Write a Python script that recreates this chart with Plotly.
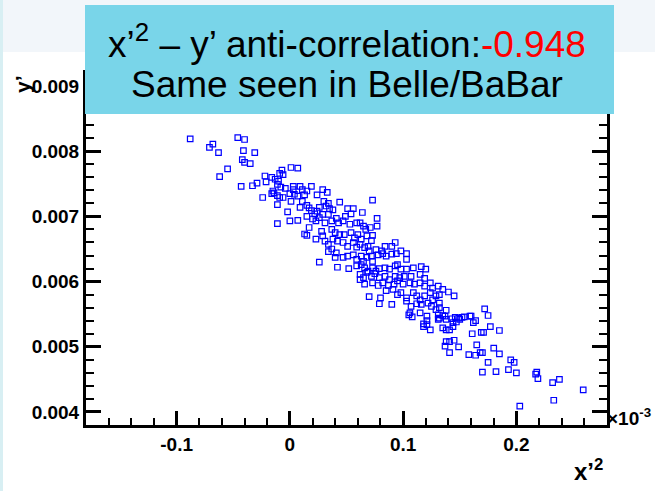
import plotly.graph_objects as go

# x'^2 values (in units of 1e-3) and y' values
x_vals = [
    -0.088, -0.068, -0.071, -0.063, -0.046, -0.040, -0.041, -0.031, -0.042, -0.040,
    -0.035, -0.055, -0.062, -0.043, -0.033, -0.029, -0.022, -0.021, -0.024,
    0.001, 0.007, -0.007, -0.009, -0.006, -0.016, -0.013, -0.010, -0.011, -0.008,
    -0.004, -0.015, -0.016, -0.014, -0.011, -0.009, -0.006, 0.003, 0.003, 0.009,
    0.011, 0.015, 0.019, 0.013, 0.000, 0.004, 0.007, 0.001, 0.024, 0.029,
    0.033, -0.011, -0.002, -0.011, 0.000, 0.007, 0.009, 0.011, 0.015, 0.017,
    0.019, 0.022, 0.024, 0.026, 0.030, 0.032, 0.034, 0.035, 0.038, 0.044,
    0.051, 0.056, 0.064, 0.073, 0.015, 0.020, 0.023, 0.026, 0.029, 0.031,
    0.017, 0.034, 0.054, 0.013, 0.015, 0.023, 0.028, 0.029, 0.031, 0.034,
    0.034, 0.026,
    0.037, 0.041, 0.043, 0.047, 0.049, 0.053, 0.059, 0.062, 0.065, 0.067,
    0.071, 0.077, 0.077, 0.037, 0.040, 0.044, 0.048, 0.054, 0.057, 0.060,
    0.063, 0.068, 0.073, 0.072, 0.038, 0.042, 0.047, 0.051, 0.056, 0.059,
    0.062, 0.066, 0.069, 0.070, 0.076, 0.081, 0.084, 0.090, 0.093, 0.037,
    0.041, 0.040, 0.047, 0.051, 0.056, 0.059, 0.063, 0.065, 0.068, 0.072,
    0.073, 0.078, 0.082, 0.085, 0.090, 0.094, 0.098, 0.103, 0.103, 0.042,
    0.052, 0.059, 0.063, 0.066, 0.069, 0.073, 0.076, 0.079, 0.084, 0.088,
    0.093, 0.095, 0.098, 0.103, 0.109, 0.116, 0.120, 0.062, 0.065, 0.068,
    0.072, 0.075, 0.079, 0.084, 0.088, 0.093, 0.097, 0.101, 0.107, 0.115,
    0.119, 0.062, 0.066, 0.073, 0.078, 0.082, 0.087, 0.092, 0.095, 0.100,
    0.106, 0.110, 0.115, 0.119, 0.124, 0.126, 0.131, 0.135, 0.140, 0.145,
    0.085, 0.091, 0.095, 0.098, 0.103, 0.109, 0.112, 0.115, 0.119, 0.124,
    0.126, 0.129, 0.132, 0.132, 0.070, 0.080, 0.079, 0.090, 0.103, 0.107,
    0.112, 0.116, 0.122, 0.125, 0.129, 0.132, 0.138, 0.106, 0.115,
    0.105, 0.108, 0.118, 0.118, 0.121, 0.121, 0.121, 0.124, 0.131, 0.132,
    0.131, 0.135, 0.137, 0.138, 0.143, 0.146, 0.149, 0.150, 0.147, 0.152,
    0.154, 0.159, 0.160, 0.144, 0.144, 0.162, 0.164, 0.135, 0.138, 0.141,
    0.172, 0.175, 0.177, 0.185, 0.161, 0.169, 0.171, 0.138, 0.141, 0.145,
    0.137, 0.149, 0.165, 0.180, 0.185, 0.141, 0.158, 0.164, 0.168, 0.170,
    0.175, 0.195, 0.198,
    0.170, 0.182, 0.193, 0.200, 0.218, 0.217, 0.219, 0.232, 0.238, 0.259,
    0.233, 0.203,
]
y_vals = [
    0.00819, 0.00811, 0.00806, 0.00798, 0.00821, 0.00818, 0.00801, 0.00798, 0.00787, 0.00783,
    0.00781, 0.00773, 0.00761, 0.00746, 0.00747, 0.00751, 0.00762, 0.00753, 0.00729,
    0.00775, 0.00774, 0.00771, 0.00766, 0.00764, 0.00760, 0.00757, 0.00754, 0.00749, 0.00745,
    0.00743, 0.00739, 0.00735, 0.00736, 0.00732, 0.00729, 0.00729, 0.00746, 0.00741, 0.00746,
    0.00741, 0.00739, 0.00746, 0.00733, 0.00735, 0.00734, 0.00731, 0.00723, 0.00733, 0.00741,
    0.00737, 0.00718, 0.00707, 0.00689, 0.00693, 0.00694, 0.00714, 0.00723, 0.00717, 0.00713,
    0.00709, 0.00704, 0.00708, 0.00714, 0.00723, 0.00716, 0.00720, 0.00712, 0.00710, 0.00722,
    0.00712, 0.00712, 0.00706, 0.00725, 0.00700, 0.00696, 0.00693, 0.00698, 0.00703, 0.00690,
    0.00683, 0.00703, 0.00704, 0.00673, 0.00671, 0.00665, 0.00677, 0.00670, 0.00662, 0.00657,
    0.00646, 0.00630,
    0.00693, 0.00697, 0.00690, 0.00693, 0.00700, 0.00688, 0.00690, 0.00690, 0.00685, 0.00680,
    0.00683, 0.00697, 0.00685, 0.00680, 0.00675, 0.00672, 0.00672, 0.00675, 0.00667, 0.00672,
    0.00665, 0.00670, 0.00671, 0.00663, 0.00665, 0.00662, 0.00660, 0.00654, 0.00660, 0.00653,
    0.00657, 0.00652, 0.00654, 0.00647, 0.00649, 0.00647, 0.00654, 0.00654, 0.00660, 0.00650,
    0.00644, 0.00637, 0.00637, 0.00639, 0.00641, 0.00634, 0.00639, 0.00631, 0.00637, 0.00639,
    0.00631, 0.00641, 0.00643, 0.00639, 0.00642, 0.00643, 0.00647, 0.00643, 0.00634, 0.00622,
    0.00620, 0.00624, 0.00626, 0.00621, 0.00616, 0.00621, 0.00616, 0.00620, 0.00621, 0.00619,
    0.00624, 0.00626, 0.00619, 0.00619, 0.00621, 0.00623, 0.00619, 0.00611, 0.00606, 0.00614,
    0.00608, 0.00612, 0.00606, 0.00608, 0.00603, 0.00608, 0.00606, 0.00608, 0.00608, 0.00611,
    0.00605, 0.00603, 0.00596, 0.00598, 0.00594, 0.00598, 0.00594, 0.00596, 0.00601, 0.00596,
    0.00598, 0.00596, 0.00598, 0.00593, 0.00598, 0.00590, 0.00593, 0.00588, 0.00584, 0.00578,
    0.00586, 0.00588, 0.00580, 0.00583, 0.00575, 0.00583, 0.00578, 0.00572, 0.00578, 0.00583,
    0.00572, 0.00578, 0.00567, 0.00580, 0.00577, 0.00575, 0.00566, 0.00565, 0.00570, 0.00562,
    0.00566, 0.00565, 0.00567, 0.00562, 0.00557, 0.00560, 0.00556, 0.00552, 0.00552,
    0.00549, 0.00546, 0.00535, 0.00531, 0.00534, 0.00547, 0.00540, 0.00526, 0.00549, 0.00544,
    0.00542, 0.00548, 0.00547, 0.00542, 0.00543, 0.00545, 0.00544, 0.00542, 0.00538, 0.00545,
    0.00546, 0.00547, 0.00547, 0.00537, 0.00531, 0.00537, 0.00540, 0.00529, 0.00526, 0.00526,
    0.00558, 0.00548, 0.00531, 0.00525, 0.00520, 0.00522, 0.00522, 0.00508, 0.00508, 0.00510,
    0.00501, 0.00500, 0.00503, 0.00498, 0.00489, 0.00491, 0.00488, 0.00487, 0.00491, 0.00491,
    0.00476, 0.00480, 0.00476,
    0.00461, 0.00462, 0.00465, 0.00460, 0.00461, 0.00458, 0.00451, 0.00445, 0.00450, 0.00434,
    0.00418, 0.00409,
]

x_tick_vals = [-0.1, 0.0, 0.1, 0.2]
x_tick_text = ["-0.1", "0", "0.1", "0.2"]
y_tick_vals = [0.004, 0.005, 0.006, 0.007, 0.008, 0.009]
y_tick_text = ["0.004", "0.005", "0.006", "0.007", "0.008", "0.009"]

title_line1 = "x’<sup>2</sup> – y’ anti-correlation:<span style='color:#ff0000'>-0.948</span>"
title_line2 = "Same seen in Belle/BaBar"

W, H = 655, 491
ML, MR, MT, MB = 86, 48, 73, 66
PW, PH = W - ML - MR, H - MT - MB


def px_x(p):
    return (p - ML) / PW


def px_y(p):
    return (H - MB - p) / PH


fig = go.Figure()
fig.add_trace(go.Scatter(
    x=x_vals, y=y_vals, mode="markers",
    marker=dict(symbol="square-open", size=5.5, color="#0000ff",
                line=dict(width=1.2, color="#0000ff")),
    showlegend=False, hoverinfo="skip",
))

axis_font = dict(family="Liberation Sans", size=19, color="black", weight="bold")

fig.update_xaxes(
    range=[-0.18, 0.28], tickmode="array", tickvals=x_tick_vals, ticktext=x_tick_text,
    ticks="inside", ticklen=14, tickwidth=3, tickcolor="black",
    showline=True, linewidth=3, linecolor="black", mirror="ticks",
    showgrid=False, zeroline=False, tickfont=axis_font,
    minor=dict(tickmode="linear", tick0=0, dtick=0.02, ticks="inside",
               ticklen=7, tickwidth=2, tickcolor="black", showgrid=False),
)
fig.update_yaxes(
    range=[0.0038, 0.0092], tickmode="array", tickvals=y_tick_vals, ticktext=y_tick_text,
    ticks="inside", ticklen=15, tickwidth=3, tickcolor="black",
    showline=True, linewidth=3, linecolor="black", mirror="ticks",
    showgrid=False, zeroline=False, tickfont=axis_font,
    minor=dict(tickmode="linear", tick0=0, dtick=0.0002, ticks="inside",
               ticklen=8, tickwidth=2, tickcolor="black", showgrid=False),
)

shapes = [
    dict(type="rect", xref="paper", yref="paper", x0=px_x(0), x1=px_x(W),
         y0=px_y(52), y1=px_y(0), fillcolor="#f2f6fa", line=dict(width=0), layer="below"),
    dict(type="rect", xref="paper", yref="paper", x0=px_x(0), x1=px_x(3),
         y0=px_y(H), y1=px_y(0), fillcolor="#d8eff3", line=dict(width=0), layer="below"),
    dict(type="rect", xref="paper", yref="paper", x0=px_x(85), x1=px_x(614),
         y0=px_y(114), y1=px_y(5), fillcolor="#79d5e9", line=dict(width=0), layer="above"),
]

annotations = [
    dict(text=title_line1, xref="paper", yref="paper", x=px_x(347), y=px_y(41),
         showarrow=False, xanchor="center", yanchor="middle",
         font=dict(family="Liberation Sans", size=37, color="black")),
    dict(text=title_line2, xref="paper", yref="paper", x=px_x(347), y=px_y(85),
         showarrow=False, xanchor="center", yanchor="middle",
         font=dict(family="Liberation Sans", size=37, color="black")),
    dict(text="y’", xref="paper", yref="paper", x=px_x(22), y=px_y(84),
         showarrow=False, xanchor="center", yanchor="middle", textangle=-90,
         font=dict(family="Liberation Sans", size=21, color="black", weight="bold")),
    dict(text="x’<sup>2</sup>", xref="paper", yref="paper", x=px_x(605), y=px_y(470),
         showarrow=False, xanchor="right", yanchor="middle",
         font=dict(family="Liberation Sans", size=24, color="black", weight="bold")),
    dict(text="×10<sup>-3</sup>", xref="paper", yref="paper", x=px_x(605), y=px_y(417),
         showarrow=False, xanchor="left", yanchor="middle",
         font=dict(family="Liberation Sans", size=19, color="black", weight="bold")),
]

fig.update_layout(
    width=W, height=H, autosize=False,
    margin=dict(l=ML, r=MR, t=MT, b=MB, pad=0),
    paper_bgcolor="white", plot_bgcolor="white",
    shapes=shapes, annotations=annotations,
)

fig.write_html("out.html", include_plotlyjs=True)
